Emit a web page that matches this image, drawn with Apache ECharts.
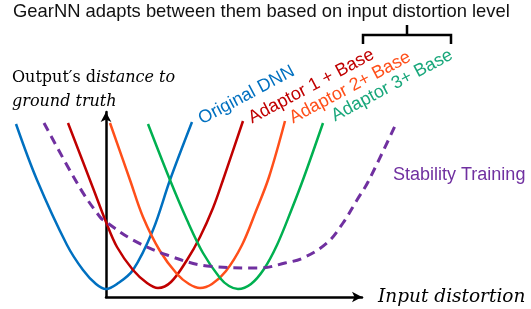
<!DOCTYPE html>
<html><head><meta charset="utf-8">
<script src="https://cdn.jsdelivr.net/npm/echarts@6/dist/echarts.min.js"></script>
<style>html,body{margin:0;padding:0;background:#fff}#c{width:531px;height:309px}</style>
</head><body><div id="c"></div>
<script>
// x: input distortion, y: output's distance to ground truth (arbitrary units, origin at axes corner)
const originalDNN = [[-9.0,17.3],[-6.9,11.7],[-3.9,5.2],[-2.3,2.7],[-1.0,1.3],[0,0.8],[1.1,1.3],[2.7,2.7],[4.7,6.7],[6.4,11.7],[8.6,17.5]];
const adaptor1 = [[-3.8,17.4],[-1.3,10.9],[0,7.5],[1.1,5.0],[2.7,2.7],[4.1,1.4],[5.2,0.9],[6.5,1.5],[8.1,3.7],[9.4,6.0],[10.7,8.9],[11.7,11.7],[13.7,17.6]];
const adaptor2 = [[0.4,17.4],[2.4,11.7],[3.7,8.0],[5.4,4.6],[7.1,2.3],[8.3,1.3],[9.4,0.9],[10.6,1.3],[12.0,2.6],[13.6,5.2],[15.0,8.6],[16.3,12.0],[17.9,17.6]];
const adaptor3 = [[4.2,17.3],[6.4,11.7],[8.1,7.7],[9.7,4.4],[11.4,1.9],[12.3,1.1],[13.2,0.8],[14.5,1.3],[15.8,2.8],[17.1,5.2],[18.5,8.6],[19.8,12.0],[21.7,17.4]];
const stability = [[-6.2,17.4],[-2.6,10.9],[-0.6,8.0],[0,7.5],[2.7,5.7],[6.1,4.2],[10.1,3.1],[15.4,2.9],[17.9,3.4],[19.7,3.9],[22.1,5.4],[23.7,7.4],[25.1,9.7],[26.2,11.5],[28.9,17.1]];
const seriesNames = ['Original DNN','Adaptor 1 + Base','Adaptor 2+ Base','Adaptor 3+ Base','Stability Training'];
const titleText = 'GearNN adapts between them based on input distortion level';
const xName = 'Input distortion';

const chart = echarts.init(document.getElementById('c'), null, {renderer:'canvas'});
const sans = 'Liberation Sans, Arial, sans-serif';
const serif = 'DejaVu Serif, serif';
function curve(name, data, color, dashed){
  return {type:'line', name, data, xAxisIndex:1, yAxisIndex:1, smooth:0.35, symbol:'none', silent:true,
    lineStyle:{color, width: dashed?3:2.5, type: dashed?[9,6]:'solid'}, z: dashed?3:2};
}
function label(text, x, y, color, deg){
  return {type:'text', x, y, rotation: deg*Math.PI/180,
    style:{text, fill:color, font:'18px '+sans, textAlign:'left', textVerticalAlign:'bottom'}};
}
chart.setOption({
  animation:false,
  grid:[
    {left:106, top:112, width:256, height:185},
    {left:6, top:117, width:400, height:180}
  ],
  xAxis:[
    {gridIndex:0, type:'value', min:0, max:1, splitLine:{show:false}, axisTick:{show:false}, axisLabel:{show:false},
     axisLine:{show:true, symbol:['none','arrow'], symbolSize:[8,10], lineStyle:{color:'#000', width:2.5}},
     name:xName, nameLocation:'end', nameGap:16,
     nameTextStyle:{fontFamily:serif, fontStyle:'italic', fontSize:18.5, color:'#000', verticalAlign:'middle'}},
    {gridIndex:1, type:'value', min:-10, max:30, show:false}
  ],
  yAxis:[
    {gridIndex:0, type:'value', min:0, max:1, splitLine:{show:false}, axisTick:{show:false}, axisLabel:{show:false},
     axisLine:{show:true, symbol:['none','arrow'], symbolSize:[8,10], lineStyle:{color:'#000', width:2.5}}},
    {gridIndex:1, type:'value', min:0, max:18, show:false}
  ],
  series:[
    curve(seriesNames[0], originalDNN, '#0070c0'),
    curve(seriesNames[1], adaptor1, '#c00000'),
    curve(seriesNames[2], adaptor2, '#ff4f1a'),
    curve(seriesNames[3], adaptor3, '#00b050'),
    curve(seriesNames[4], stability, '#7030a0', true)
  ],
  graphic:[
    {type:'text', left:13, top:3, style:{text:titleText, fill:'#111', font:'18.4px '+sans}},
    {type:'text', x:12, y:66, style:{
      text:'{u|Output′s d}{i|istance to}\n{i|ground truth}', textVerticalAlign:'top',
      rich:{u:{fontFamily:serif, fontSize:16, fill:'#000', lineHeight:24}, i:{fontFamily:serif, fontStyle:'italic', fontSize:16, fill:'#000', lineHeight:24}}}},
    label(seriesNames[0], 204, 128, '#0070c0', 28),
    label(seriesNames[1], 254, 127, '#c00000', 28),
    label(seriesNames[2], 295, 127, '#ff4f1a', 28),
    label(seriesNames[3], 337, 125, '#19a77b', 28),
    {type:'text', x:393, y:175, style:{text:seriesNames[4], fill:'#7030a0', font:'18px '+sans, textVerticalAlign:'middle'}},
    {type:'polyline', shape:{points:[[363,44],[363,35],[451,35],[451,44]]}, style:{stroke:'#000', lineWidth:2.5, fill:null}},
    {type:'line', shape:{x1:407, y1:35, x2:407, y2:25}, style:{stroke:'#000', lineWidth:2.5}}
  ]
});
</script></body></html>
